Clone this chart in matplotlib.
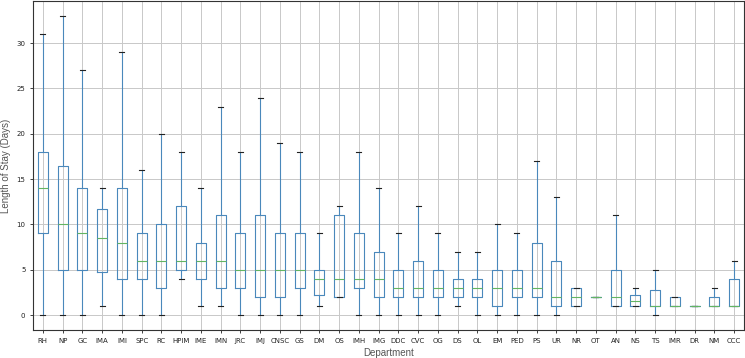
import matplotlib.pyplot as plt

# departments, ordered by median length of stay
departments = ['RH', 'NP', 'GC', 'IMA', 'IMI', 'SPC', 'RC', 'HPIM', 'IME', 'IMN',
               'JRC', 'IMJ', 'CNSC', 'GS', 'DM', 'OS', 'IMH', 'IMG', 'DDC', 'CVC',
               'OG', 'DS', 'OL', 'EM', 'PED', 'PS', 'UR', 'NR', 'OT', 'AN',
               'NS', 'TS', 'IMR', 'DR', 'NM', 'CCC']

# box statistics (days)
whislo = [0, 0, 0, 1, 0, 0, 0, 4, 1, 1,
          0, 0, 0, 0, 1, 2, 0, 0, 0, 0,
          0, 1, 0, 0, 0, 0, 0, 1, 2, 1,
          1, 0, 1, 1, 1, 1]
q1 = [9, 5, 5, 4.75, 4, 4, 3, 5, 4, 3,
      3, 2, 2, 3, 2.25, 2, 3, 2, 2, 2,
      2, 2, 2, 1, 2, 2, 1, 1, 2, 1,
      1, 1, 1, 1, 1, 1]
median = [14, 10, 9, 8.5, 8, 6, 6, 6, 6, 6,
          5, 5, 5, 5, 4, 4, 4, 4, 3, 3,
          3, 3, 3, 3, 3, 3, 2, 2, 2, 2,
          1.5, 1, 1, 1, 1, 1]
q3 = [18, 16.5, 14, 11.75, 14, 9, 10, 12, 8, 11,
      9, 11, 9, 9, 5, 11, 9, 7, 5, 6,
      5, 4, 4, 5, 5, 8, 6, 3, 2, 5,
      2.25, 2.75, 2, 1, 2, 4]
whishi = [31, 33, 27, 14, 29, 16, 20, 18, 14, 23,
          18, 24, 19, 18, 9, 12, 18, 14, 9, 12,
          9, 7, 7, 10, 9, 17, 13, 3, 2, 11,
          3, 5, 2, 1, 3, 6]

stats = []
for i, name in enumerate(departments):
    stats.append({'label': name, 'whislo': whislo[i], 'q1': q1[i], 'med': median[i],
                  'q3': q3[i], 'whishi': whishi[i], 'fliers': []})

fig = plt.figure(figsize=(7.45, 3.58), dpi=100)
ax = fig.add_axes([33 / 745, 28 / 358, 711 / 745, 329 / 358])

ax.bxp(stats, showfliers=False,
       boxprops=dict(color='#4a88bb', linewidth=0.8),
       whiskerprops=dict(color='#4a88bb', linewidth=0.8),
       capprops=dict(color='#222222', linewidth=0.8),
       medianprops=dict(color='#62b562', linewidth=0.8))

ax.grid(True, color='#c8c8c8', linewidth=0.7)
ax.set_axisbelow(True)
ax.set_ylim(-1.65, 34.65)
ax.tick_params(labelsize=5, length=2.5, width=0.6, pad=3, colors='#222222')
for s in ax.spines.values():
    s.set_color('#333333')
    s.set_linewidth(0.8)

ax.set_xlabel('Department', family='Liberation Sans', fontsize=7, color='#555555', labelpad=3)
ax.set_ylabel('Length of Stay (Days)', family='Liberation Sans', fontsize=7, color='#555555', labelpad=4)

fig.savefig('out.png', dpi=100)
